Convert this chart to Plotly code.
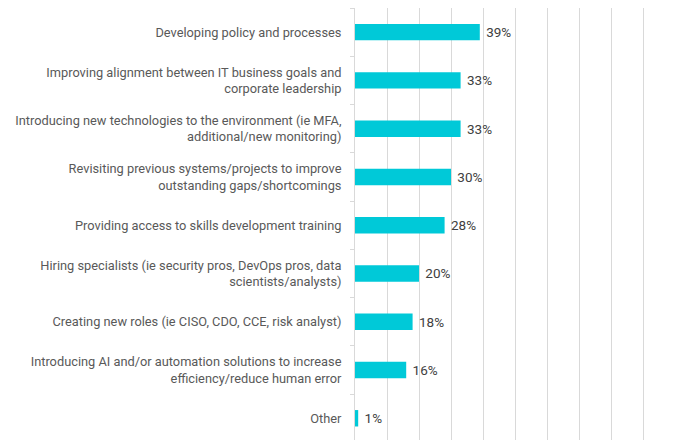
import plotly.graph_objects as go

# Survey answers, top to bottom as shown
categories = [
    "Developing policy and processes",
    "Improving alignment between IT business goals and<br>corporate leadership",
    "Introducing new technologies to the environment (ie MFA,<br>additional/new monitoring)",
    "Revisiting previous systems/projects to improve<br>outstanding gaps/shortcomings",
    "Providing access to skills development training",
    "Hiring specialists (ie security pros, DevOps pros, data<br>scientists/analysts)",
    "Creating new roles (ie CISO, CDO, CCE, risk analyst)",
    "Introducing AI and/or automation solutions to increase<br>efficiency/reduce human error",
    "Other",
]
values = [39, 33, 33, 30, 28, 20, 18, 16, 1]

BAR_COLOR = "#00C9D8"
GRID_COLOR = "#D9D9D9"
LABEL_COLOR = "#595959"
VALUE_COLOR = "#404040"

fig = go.Figure()

fig.add_trace(go.Bar(
    x=values,
    y=categories,
    orientation="h",
    marker=dict(color=BAR_COLOR, line=dict(width=0)),
    # non-breaking space widens the gap between bar end and label a bit
    text=[f"\u00a0{v}%" for v in values],
    textposition="outside",
    textfont=dict(family="Roboto", size=13.5, color=VALUE_COLOR),
    cliponaxis=False,
    hoverinfo="skip",
))

fig.update_layout(
    width=678,
    height=440,
    margin=dict(l=355, r=3, t=8, b=0),
    paper_bgcolor="white",
    plot_bgcolor="white",
    bargap=0.66,
    showlegend=False,
    font=dict(family="Roboto", size=12.8, color=LABEL_COLOR),
)

fig.update_xaxes(
    range=[0, 100],
    dtick=10,
    showticklabels=False,
    showgrid=True,
    gridcolor=GRID_COLOR,
    gridwidth=1,
    zeroline=False,
    showline=False,
    fixedrange=True,
)

# the original chart runs a few pixels past the bottom edge, so the last
# category band is slightly cut off
fig.update_yaxes(
    range=[8.45, -0.5],
    tickson="boundaries",
    ticks="outside",
    ticklen=4,
    tickcolor=GRID_COLOR,
    ticklabelstandoff=10,
    showline=True,
    linecolor=GRID_COLOR,
    showgrid=False,
    fixedrange=True,
    tickfont=dict(family="Roboto", size=12.8, color=LABEL_COLOR),
)

# drop the browser's default 8px body margin so the chart sits at the page corner
fig.write_html(
    "out.html",
    config={"displayModeBar": False},
    post_script="document.body.style.margin='0';",
)
